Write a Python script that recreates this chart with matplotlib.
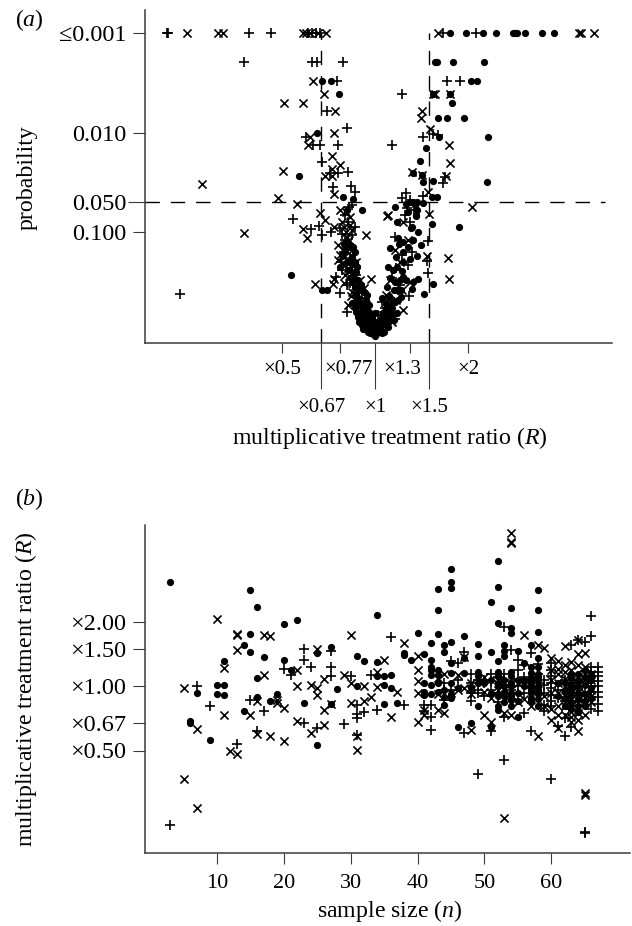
import numpy as np
import matplotlib
matplotlib.use("Agg")
import matplotlib.pyplot as plt
from matplotlib.transforms import ScaledTranslation

plt.rcParams['font.family'] = ['Liberation Serif', 'DejaVu Sans']
plt.rcParams['mathtext.fontset'] = 'custom'
plt.rcParams['mathtext.rm'] = 'Liberation Serif'
plt.rcParams['mathtext.it'] = 'Liberation Serif:italic'

# panel a: log2(R) and -log10(p)
a_plus = [(-2.24,3.0),(-2.23,3.0),(-1.35,3.0),(-1.12,3.0),(-.72,3.0),(-.68,3.0),(-.63,3.0),(-.59,3.0),(.73,3.0),(1.09,3.0),
    (-1.41,2.71),(-.68,2.71),(-.62,2.71),(-.34,2.71),(-.41,2.52),(.77,2.52),(.91,2.52),(.29,2.39),(-.52,2.22),(-.30,2.05),
    (-.74,1.96),(.52,1.96),(.62,1.99),(.68,1.98),(-.67,1.88),(-.59,1.88),(-.40,1.88),(.18,1.88),(-.57,1.71),(-.48,1.6),
    (-.40,1.6),(-.29,1.61),(.75,1.55),(.73,1.49),(-.45,1.45),(-.26,1.46),(-.22,1.4),(.33,1.39),(.29,1.34),(.38,1.32),
    (.52,1.36),(.34,1.24),(-.88,1.13),(-.69,1.03),(-.6,1.06),(-.57,.97),(-.47,1.0),(.21,.95),(.57,.91),(.57,.59),
    (.56,.71),(.37,.36),(.4,.8),(-.38,.39),(-.30,.2),(-.32,1.17),(-.25,1.27),(-.29,1.10),(-.38,1.04),(-.32,.92),
    (-.25,.97),(-.29,.84),(-.33,.80),(-.27,.74),(-.31,.67),(-.25,.62),(-.37,.70),(-.20,.57),(-.27,.49),(-.18,.42),
    (-.14,.34),(-.23,.27),(-.16,.20),(-.10,.14),(-.03,.10),(.03,.17),(.11,.24),(.14,.32),(.23,.64),(.29,.77),
    (.18,.54),(.35,.67),(.38,1.10),(.42,1.22),(.32,1.17),(.25,.42),(.16,.34),(.10,.20),(.18,.27),(.27,.47),
    (-2.1,.38),(-.42,.55),(-.35,.62),(-.30,.47),(-.22,.35),(.06,.12),(-.07,.06),(.22,.13),
    (-.28,1.25),(-.22,1.05),(-.35,.98),(-.28,.88),(-.24,.52),(-.12,.24),(.08,.30)]
a_cross = [(-2.02,3.0),(-1.69,3.0),(-1.63,3.0),(-.77,3.0),(-.74,3.0),(-.70,3.0),(-.61,3.0),(-.53,3.0),(.68,3.0),(2.19,3.0),
    (2.21,3.0),(2.35,3.0),(-.67,2.52),(-.55,2.39),(.62,2.39),(.64,2.39),(.81,2.39),(-.98,2.30),(-.77,2.30),(-.43,2.22),
    (.51,2.22),(.49,2.15),(.59,2.04),(-.44,2.0),(-.70,1.96),(-.72,1.88),(.80,1.88),(-.46,1.77),(-.38,1.68),(.81,1.70),
    (-.99,1.62),(-.46,1.64),(-.54,1.57),(-.46,1.57),(.40,1.61),(.51,1.58),(.76,1.56),(-1.86,1.48),(-.44,1.38),(-1.04,1.34),
    (-.84,1.28),(.57,1.4),(1.04,1.25),(-.59,1.19),(.58,1.18),(.13,1.16),(.14,1.17),(-.77,1.03),(-.73,.94),(-.54,1.12),
    (-.44,1.05),(-.38,1.22),(-.10,.97),(-.65,.48),(-.45,.48),(-.44,.53),(-.33,.49),(-.04,.53),(.30,1.1),(.56,.76),
    (.78,.74),(.80,.53),(-1.41,.99),(-.35,1.10),(-.27,1.07),(-.40,.87),(-.25,.82),(-.31,1.0),(-.38,.77),(-.29,.64),
    (-.20,.70),(-.40,.72),(-.32,.57),(-.16,.52),(-.25,.40),(-.12,.44),(-.18,.32),(-.29,.27),(-.10,.27),(-.05,.17),
    (.08,.07),(.14,.14),(.23,.32),(.29,.42),(.38,.50),(.27,.70),(.35,.92),(.22,.82),(.16,.52),(.12,.37),
    (0,.02),(-.03,.04),(.04,.05),(.18,.10),(-.34,.82),(-.28,.92),(.3,.22),
    (-.33,.75),(-.36,.68),(-.31,.82),(-.24,.66),(-.28,.56),(-.21,.46),(-.26,.36),(-.17,.2),(-.31,1.2),(-.27,1.15),
    (-.33,1.05),(-.25,1.02),(-.3,.95)]
a_dot = [(.81,3.0),(.98,3.0),(1.16,3.0),(1.30,3.0),(1.48,3.0),(1.51,3.0),(1.53,3.0),(1.61,3.0),(1.80,3.0),(1.92,3.0),
    (.65,2.71),(.67,2.71),(.84,2.71),(1.17,2.71),(-.57,2.52),(-.47,2.52),(1.03,2.52),(1.10,2.52),(-.39,2.39),(.62,2.39),
    (.81,2.39),(.83,2.30),(.68,2.15),(.77,2.15),(.96,2.15),(-.62,2.0),(.69,1.96),(1.21,1.96),(.55,1.85),(.48,1.72),
    (.41,1.6),(.51,1.58),(-.82,1.56),(.52,1.5),(.62,1.51),(1.20,1.5),(-.34,1.35),(.61,1.35),(.67,1.35),(-.24,1.33),
    (.41,1.3),(.45,1.3),(.52,1.29),(.21,1.25),(-.30,1.22),(.44,1.17),(-.90,.57),(-.57,.42),(-.52,.42),(.24,1.1),
    (.25,.94),(.39,1.04),(.46,1.0),(.49,.87),(.61,1.08),(.90,1.05),(.62,.48),(.53,.38),(.46,.53),(.45,.76),
    (-.14,1.22),(.38,1.30),(.45,1.22),(.44,1.16),(.40,1.05),(.41,.92),(.38,.73),(.30,.80),(.23,.75),(.16,.84),
    (.14,.65),(.29,.61),(.40,.43),(.41,.50),(.19,.62),(.16,.54),(.13,.45),(.24,.42),(.25,.32),(.08,.34),
    (.19,.30),(.13,.27),(.24,.19),(.16,.14),(-.24,.85),(-.22,.80),(-.19,.65),(-.25,.55),(-.38,.65),(-.16,.42),
    (-.09,.37),(-.19,.35),(-.25,.29),(-.16,.27),(-.11,.25),(-.22,.24),(-.14,.19),(-.14,.07),(-.11,.03),(-.08,.10),
    (-.09,.17),(-.03,.14),(0,.19),(.02,.10),(0,.02),(-.02,-.02),(.02,-.01),(.03,.05),(.08,.10),(.11,.14),
    (.14,.10),(.08,.17),(-.05,.07),(-.02,.07),(.05,.03),(-.03,.04),(-.07,.05),(0,.08),(.09,.19),(.13,.20),
    (.18,.24),(-.18,.15),(-.20,.20),(-.17,.10),(.05,.12),(.11,.08),(-.28,.70),(-.33,.88),(.33,.52),(.28,.35),
    (-.30,.9),(-.27,.85),(-.33,.8),(-.25,.75),(-.3,.7),(-.22,.7),(-.28,.62),(-.2,.6),(-.25,.5),(-.18,.52),
    (-.22,.45),(-.15,.47),(-.2,.38),(-.12,.4),(-.17,.3),(-.1,.32),(-.2,.27),(-.13,.22),(-.07,.27),(-.17,.14),
    (-.1,.12),(-.04,.1),(-.06,.2),(.3,.7),(.24,.65),(.3,.55),(.22,.5),(.27,.52),(.2,.42),(.28,.42),
    (.15,.36),(.22,.3),(.12,.28),(.18,.18),(.1,.2),(.06,.1),(.14,.05),(.1,.0),(.07,-.01),(-.08,0),
    (-.05,-.01),(0,-.04),(0,.05),(.03,.0),(-.03,.01),(.05,.07),(-.13,.03),(-.12,.12),(.16,.2),(.2,.12),
    (.33,1.28),(.36,1.2),(.43,1.27),(.3,.9),(.36,.85),(.26,.88)]

# panel b: sample size n and log2(R)
b_plus = [(3,-2.16),(7,.01),(23,.58),(27,.56),(23,.41),(20,.28),(21,.18),(24,.3),(27,.3),(27,.17),
    (30,.16),(33,.18),(9,-.31),(15,-.21),(17,-.38),(23,-.57),(25,-.65),(29,-.59),(31,-.29),(31,-.43),
    (31,-.49),(32,-.4),(34,-.36),(16,-.7),(31,-.76),(13,-.9),(49,-1.37),(53,-1.15),(60,-1.45),(65,-2.28),
    (65,-2.27),(36,.77),(53,.93),(66,1.1),(66,.78),(63,.65),(64,.72),(65,.69),(47,.54),(54,.57),
    (57,.52),(55,.42),(45,.39),(46,.36),(56,.34),(50,.1),(50,.05),(44,.05),(44,-.05),(44,-.21),
    (38,-.29),(41,-.29),(41,-.39),(42,-.29),(42,-.47),(42,-.68),(48,-.23),(49,-.05),(49,-.1),(56,-.41),
    (53,-.47),(59,-.29),(59,-.39),(57,-.7),(47,-.73),(51,-.7),(62,-.49),(62,-.78),(61,-.62),(63,-.64),
    (60,.26),(60,.16),(60,.05),(60,-.03),(60,-.13),(60,-.23),(62,-.05),(62,-.16),(62,-.23),(64,-.10),
    (64,-.23),(64,-.31),(65,.16),(65,.05),(65,-.1),(65,-.21),(66,.31),(66,.23),(66,.16),(66,.08),
    (66,0),(66,-.08),(67,.31),(67,.23),(67,.16),(67,.08),(67,0),(67,-.08),(67,-.39),(67,-.27),
    (55,.25),(55,.12),(55,0),(53,.1),(53,.02),(53,-.12),(58,.2),(58,.05),(58,-.1),(57,.12),
    (48,.05),(48,-.1),(46,.1),(45,-.05),(51,.08),(52,-.1),(52,-.25),(54,-.2),(56,.15),(59,.02),
    (67,-.16),(66,-.16),(65,.24),(64,.1),(64,0),(63,.05),(63,-.1),(62,.1),(61,-.05),(61,-.18),
    (60,-.3),(60,.36),(66,-.35),(63,-.3),(59,-.1),(59,.1),(58,.35),(57,-.03),(56,.05),(56,-.1),
    (55,-.12),(54,-.05),(53,.2),(52,.15),(51,.2),(51,-.05),(50,-.15),(49,.1),(48,.2)]
b_cross = [(10,1.06),(13,.81),(13,.82),(17,.81),(18,.78),(30,.81),(13,.57),(11,.29),(25,.58),(22,.26),
    (17,.18),(5,-.02),(22,.01),(24,.03),(25,-.03),(26,.11),(29,.18),(30,.06),(32,.01),(34,.23),
    (34,-.01),(33,-.16),(32,-.22),(30,-.26),(25,-.13),(11,-.44),(15,-.45),(16,-.22),(19,-.21),(19,-.26),
    (20,-.34),(26,-.36),(27,-.27),(7,-.66),(22,-.54),(26,-.6),(24,-.73),(18,-.78),(16,-.74),(20,-.85),
    (12,-1.0),(13,-1.06),(31,-.99),(31,-.77),(5,-1.44),(7,-1.89),(65,-1.66),(65,-1.70),(53,-2.05),(54,2.40),
    (54,2.24),(54,2.25),(35,.42),(38,.68),(40,.47),(40,.26),(40,.09),(37,-.08),(36,-.47),(56,.81),
    (58,.65),(59,.6),(62,.63),(64,.72),(64,.51),(65,.52),(60,.44),(61,.39),(62,.33),(62,.23),
    (62,.12),(62,0),(64,.33),(43,.13),(40,-.11),(40,-.55),(44,-.41),(43,-.36),(41,-.36),(41,-.44),
    (48,-.68),(51,-.55),(50,-.44),(58,-.78),(60,-.52),(61,-.65),(64,-.7),(64,-.52),(64,-.42),(63,-.47),
    (53,-.42),(54,-.44),(61,.2),(61,.05),(61,-.1),(61,-.3),(62,-.15),(62,-.3),(63,.25),(63,.1),
    (63,-.05),(63,-.2),(63,-.4),(64,.15),(64,.03),(64,-.08),(64,-.2),(64,-.33),(65,.2),(65,.05),
    (65,-.1),(65,-.25),(65,-.45),(66,.1),(66,-.05),(66,-.15),(66,-.25),(45,-.1),(46,-.05),(47,-.02),
    (48,-.12),(50,-.08),(51,-.18),(52,-.05),(54,.05),(56,-.2),(58,-.05),(59,-.15),(47,.46),(43,-.12),
    (60,.25),(60,.1),(60,-.1),(61,.28),(63,.38),(62,-.45),(63,-.55),(65,.3),(66,.2),(59,-.3),
    (60,-.35),(61,-.45),(44,.2),(46,.18),(48,.05),(50,.15),(55,.05),(55,-.25),(52,.1),(57,-.3)]
b_dot = [(3,1.63),(15,1.51),(16,1.24),(20,.97),(22,1.04),(34,1.11),(15,.82),(14,.64),(15,.54),(17,.46),
    (11,.40),(20,.41),(21,.26),(16,.13),(27,.61),(25,.52),(31,.47),(32,.39),(34,.38),(34,.16),
    (28,-.04),(31,.01),(10,.03),(11,.02),(7,-.11),(10,-.125),(11,-.135),(16,-.17),(19,-.12),(18,-.23),
    (23,-.26),(27,-.27),(14,-.39),(6,-.54),(6,-.57),(9,-.83),(25,-.92),(52,1.96),(45,1.83),(45,1.63),
    (45,1.54),(43,1.52),(52,1.56),(51,1.32),(58,1.5),(54,1.22),(58,1.19),(43,1.19),(52,.99),(54,.92),
    (54,.84),(58,.85),(40,.83),(43,.82),(47,.79),(42,.68),(45,.69),(44,.64),(44,.54),(49,.67),
    (53,.64),(53,.56),(53,.47),(51,.53),(55,.56),(38,.52),(38,.49),(39,.41),(41,.51),(42,.42),
    (47,.45),(49,.48),(52,.40),(57,.65),(58,.44),(42,.31),(42,.26),(42,.18),(43,.26),(43,.18),
    (45,.36),(45,.21),(47,.21),(49,.23),(49,.16),(49,.05),(52,.23),(52,.16),(52,.05),(54,.23),
    (54,.16),(54,.05),(56,.36),(57,.31),(57,.21),(57,.10),(57,0),(57,-.10),(57,-.23),(58,.3),
    (58,.2),(58,.1),(58,-.05),(58,-.2),(41,.05),(42,.02),(41,-.08),(41,-.13),(42,-.12),(44,-.16),
    (44,-.29),(45,-.18),(49,-.31),(52,-.31),(52,-.36),(54,-.1),(54,-.21),(54,-.31),(55,-.47),(46,-.64),
    (48,-.57),(51,-.63),(35,-.28),(37,-.26),(35,.16),(35,.03),(36,.18),(36,-.03),(53,0),(53,-.08),
    (63,.13),(63,.03),(63,-.05),(63,-.15),(63,-.25),(64,.2),(64,.1),(64,0),(64,-.1),(64,-.2),
    (64,-.3),(65,.15),(65,.02),(65,-.12),(65,-.22),(62,-.07),(62,-.2),(66,.1),(66,-.02),(66,-.18),
    (57,.05),(57,.15),(57,-.05),(57,-.18),(58,.15),(58,.0),(58,-.12),(58,-.3),(56,.1),(56,0),
    (55,.1),(55,-.1),(55,-.22),(53,.1),(53,-.15),(53,-.25),(54,0),(54,-.15),(51,.1),(51,-.1),
    (50,.05),(52,.0),(52,-.15),(45,.05),(46,-.02),(45,-.12),(43,.05),(44,-.05),(43,-.08),(48,-.02),
    (62,.05),(63,.2),(63,-.35),(64,-.4),(65,.25),(65,-.3),(66,.2),(62,-.3),(61,-.15),(61,.05)]

a_short = [0.5, 0.77, 1.3, 2]
a_short_labels = ['×0.5', '×0.77', '×1.3', '×2']
a_short_shift = [0, 9, -8, 0]
a_long = [0.67, 1, 1.5]
a_long_labels = ['×0.67', '×1', '×1.5']
p_ticks = [0.001, 0.010, 0.050, 0.100]
p_labels = ['≤0.001', '0.010', '0.050', '0.100']
n_ticks = [10, 20, 30, 40, 50, 60]
r_ticks = [0.5, 0.67, 1, 1.5, 2]
r_labels = ['×0.50', '×0.67', '×1.00', '×1.50', '×2.00']

W, H = 632, 926
fig = plt.figure(figsize=(W / 100, H / 100), dpi=100)
SPINE = '#3a3a3a'
FS_LABEL = 17.2
FS_Y = 17.5


def make_axes(x0, x1, ytop, ybot):
    ax = fig.add_axes([x0 / W, 1 - ybot / H, (x1 - x0) / W, (ybot - ytop) / H])
    ax.patch.set_alpha(0)
    ax.spines[['top', 'right']].set_visible(False)
    ax.spines[['left', 'bottom']].set_linewidth(1.1)
    ax.spines[['left', 'bottom']].set_color(SPINE)
    ax.tick_params(which='both', direction='out', width=0.8, color=SPINE)
    ax.tick_params(axis='y', length=8.6, pad=5, labelsize=FS_Y)
    return ax


def scatter_all(ax, plus, cross, dot):
    for pts, m, kw in [(dot, 'o', dict(s=27, linewidths=0)),
                       (plus, '+', dict(s=62, linewidths=1.2)),
                       (cross, 'x', dict(s=34, linewidths=1.2))]:
        arr = np.array(pts)
        ax.scatter(arr[:, 0], arr[:, 1], marker=m, color='black', clip_on=False, **kw)


# panel (a)
ax = make_axes(145, 612, 10, 343)
ax.set_xlim(-2.473, 2.548)
ax.set_ylim(-0.11, 3.23)
dash = (0, (14.5 / 1.4, 11 / 1.4))
ax.axhline(-np.log10(0.05), xmin=0, xmax=0.985, color='black', lw=1, ls=dash)
for v in [0.67, 1.5]:
    ax.plot([np.log2(v)] * 2, [-0.11, 3.0], color='black', lw=1, ls=dash)
scatter_all(ax, a_plus, a_cross, a_dot)
ax.set_yticks(-np.log10(p_ticks), p_labels)
ax.yaxis.get_major_ticks()[2].tick1line.set_markersize(12)
ax.set_xticks(np.log2(a_short), a_short_labels)
ax.set_xticks(np.log2(a_long), a_long_labels, minor=True)
ax.tick_params(axis='x', which='both', labelsize=15)
ax.tick_params(axis='x', which='major', length=7.2, pad=5)
ax.tick_params(axis='x', which='minor', length=33, pad=6.5)
for lab, dx in zip(ax.get_xticklabels(), a_short_shift):
    lab.set_transform(lab.get_transform() + ScaledTranslation(dx / 100, 0, fig.dpi_scale_trans))
fig.text(390 / W, 1 - 438 / H, r'multiplicative treatment ratio ($\mathit{R}$)', fontsize=FS_LABEL, ha='center', va='center')
fig.text(27 / W, 1 - 178 / H, 'probability', fontsize=FS_LABEL, rotation=90, ha='center', va='center')
fig.text(15 / W, 1 - 20 / H, r'($\mathit{a}$)', fontsize=FS_LABEL, va='center')

# panel (b)
ax2 = make_axes(145, 630, 525, 853)
ax2.set_xlim(-0.78, 71.8)
ax2.set_ylim(-2.60, 2.52)
scatter_all(ax2, b_plus, b_cross, b_dot)
ax2.set_xticks(n_ticks)
ax2.set_yticks(np.log2(r_ticks), r_labels)
ax2.tick_params(axis='x', length=8, pad=7, labelsize=16)
fig.text(390 / W, 1 - 911 / H, r'sample size ($\mathit{n}$)', fontsize=FS_LABEL, ha='center', va='center')
fig.text(26 / W, 1 - 689 / H, r'multiplicative treatment ratio ($\mathit{R}$)', fontsize=FS_LABEL, rotation=90, ha='center', va='center')
fig.text(15 / W, 1 - 499 / H, r'($\mathit{b}$)', fontsize=FS_LABEL, va='center')

fig.savefig('out.png', dpi=100)
